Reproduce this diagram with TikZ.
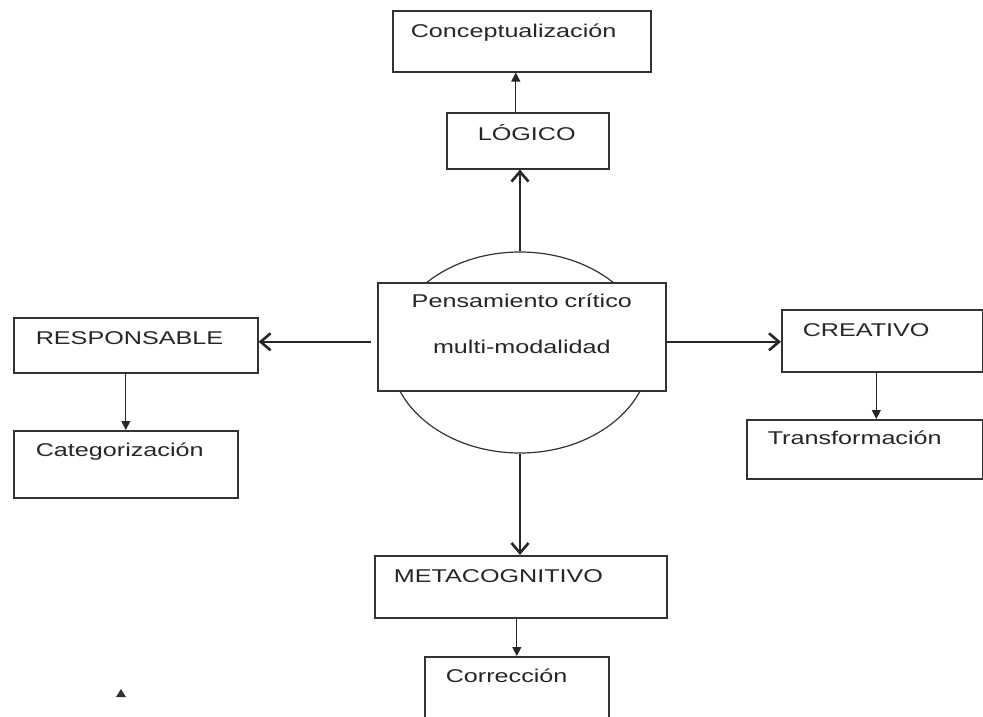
\documentclass[tikz,border=0pt]{standalone}
\usepackage{fontspec}
\setmainfont{Liberation Sans}[FakeStretch=1.36]
\usetikzlibrary{arrows.meta}
\usetikzlibrary{shapes.geometric}

\definecolor{borde}{gray}{0.2}

\begin{document}
\begin{tikzpicture}[x=1pt,y=-1pt]
   \tikzset{caja/.style={draw=borde, line width=1.6pt, fill=white, inner sep=0pt, anchor=north west, align=left, text=black!85, font=\fontsize{18.5}{22}\selectfont}}
   \tikzset{gruesa/.style={draw=black!85, line width=2.6pt, -{Straight Barb[length=10pt,width=17pt]}}}
   \tikzset{fina/.style={draw=black!85, line width=1.3pt, -{Triangle[length=9pt,width=9pt]}}}
   \useasboundingbox (0,0) rectangle (983,717);
   % centro
   \node[draw=borde, line width=1.2pt, ellipse, inner sep=0pt, minimum width=260pt, minimum height=201pt] (circ) at (520,352.5) {};
   \node[caja, align=center, text width=288pt, text height=25pt, text depth=83pt] (main) at (377,282) {Pensamiento crítico\\[24pt]multi-modalidad};
   % ramas
   \node[caja, inner xsep=18pt, text width=222pt, text height=27pt, text depth=34pt] (concep) at (392,10) {Conceptualización};
   \node[caja, inner xsep=31pt, text width=100pt, text height=28pt, text depth=28pt] (logico) at (446,112) {LÓGICO};
   \node[caja, inner xsep=22pt, text width=200pt, text height=27pt, text depth=28pt] (resp) at (13,317) {RESPONSABLE};
   \node[caja, inner xsep=22pt, text width=180pt, text height=26pt, text depth=41pt] (categ) at (13,430) {Categorización};
   \node[caja, inner xsep=21pt, text width=159pt, text height=27pt, text depth=35pt] (creat) at (781,309) {CREATIVO};
   \node[caja, inner xsep=21pt, text width=194pt, text height=25pt, text depth=34pt] (transf) at (746,419) {Transformación};
   \node[caja, inner xsep=19pt, text width=254pt, text height=27pt, text depth=35pt] (meta) at (374,555) {METACOGNITIVO};
   \node[caja, inner xsep=21pt, text width=142pt, text height=26pt, text depth=38pt] (correc) at (424,656) {Corrección};
   % flechas
   \draw[gruesa] (circ.north) -- (circ.north |- logico.south);
   \draw[fina] ([xshift=-12pt]logico.north) -- ([xshift=-12pt]logico.north |- concep.south);
   \draw[gruesa, shorten <=6pt] ([yshift=-5pt]main.west) -- ([yshift=-5pt]main.west -| resp.east);
   \draw[gruesa] ([yshift=-5pt]main.east) -- ([yshift=-5pt]main.east -| creat.west);
   \draw[gruesa] (circ.south) -- (circ.south |- meta.north);
   \draw[fina] (resp.south -| categ.north) -- (categ.north);
   \draw[fina] ([xshift=-6pt]creat.south) -- ([xshift=-6pt]creat.south |- transf.north);
   \draw[fina] (correc.north |- meta.south) -- (correc.north);
   \fill[borde] (116,697) -- (126,697) -- (121,689) -- cycle;
\end{tikzpicture}
\end{document}
